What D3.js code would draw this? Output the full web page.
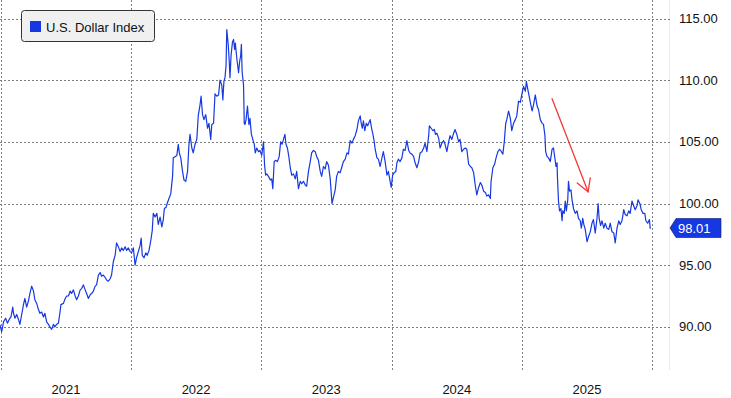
<!DOCTYPE html>
<html>
<head>
<meta charset="utf-8">
<script src="https://cdn.jsdelivr.net/npm/d3@7"></script>
<style>
  body { margin: 0; background: #fff; }
  text { font-family: "Liberation Sans", Arial, sans-serif; }
</style>
</head>
<body>
<div id="chart"></div>
<script>
var svgWidth = 731;
var svgHeight = 398;

// [days since 2021-01-01, index level]
var dxy2021 = [[-3,90.16],[2,89.6],[7,90.4],[13,90.7],[18,90.3],[23,90.6],[28,90.8],[33,91.6],[35,91.1],[39,90.7],[44,91.0],[49,90.6],[53,90.2],[58,91.0],[63,91.8],[67,92.3],[72,91.6],[77,92.1],[81,92.7],[86,93.3],[91,92.9],[95,92.2],[100,91.9],[105,91.4],[109,91.1],[114,91.2],[119,90.8],[123,91.1],[128,90.4],[133,90.2],[137,90.0],[142,89.8],[147,90.2],[151,90.0],[156,90.2],[161,90.3],[165,91.1],[168,91.8],[175,91.9],[180,92.3],[184,92.5],[189,92.5],[194,92.9],[198,92.7],[203,93.0],[208,92.5],[212,92.2],[217,92.5],[222,93.0],[226,93.1],[231,93.4],[236,93.0],[240,92.7],[245,92.3],[250,92.6],[254,92.7],[259,92.9],[264,93.3],[268,93.4],[273,94.2],[278,94.4],[282,94.1],[287,94.2],[292,94.0],[296,93.8],[301,93.7],[306,93.9],[310,94.2],[315,95.3],[320,95.8],[324,96.8],[329,96.5],[334,96.1],[338,96.4],[343,96.2],[348,96.5],[352,96.2],[357,96.4],[362,96.1]];
var dxy2022 = [[366,96.0],[371,96.4],[376,95.0],[380,95.6],[385,96.1],[390,96.6],[393,97.2],[396,95.8],[401,95.6],[406,96.0],[410,95.8],[415,96.2],[420,97.0],[424,97.8],[427,99.2],[432,98.9],[437,99.2],[441,98.3],[446,98.9],[451,98.1],[455,98.7],[458,99.6],[463,99.7],[467,100.1],[471,100.4],[476,100.8],[481,102.2],[483,103.7],[488,103.8],[493,103.9],[497,104.8],[500,104.1],[504,103.7],[509,102.6],[513,101.9],[518,101.8],[523,102.6],[527,104.8],[530,105.6],[535,104.5],[539,104.1],[544,104.8],[549,105.2],[553,107.1],[558,108.0],[561,108.7],[565,107.2],[569,106.8],[574,107.2],[579,106.1],[583,106.5],[588,105.2],[591,106.4],[596,106.5],[600,108.9],[605,108.7],[610,108.8],[614,110.0],[619,109.6],[622,108.4],[625,109.9],[628,110.2],[631,111.2],[633,114.1],[637,112.9],[640,111.5],[642,110.2],[645,112.0],[649,113.1],[652,113.3],[655,112.5],[657,113.0],[661,111.8],[666,110.6],[669,111.5],[672,112.0],[674,112.9],[676,110.7],[680,109.6],[682,106.5],[684,106.4],[687,106.8],[691,107.9],[695,106.4],[698,106.9],[702,105.6],[706,105.2],[710,104.8],[713,104.1],[717,104.5],[722,104.2],[726,104.3]];
var dxy2023 = [[731,103.9],[736,105.0],[739,103.1],[742,102.3],[745,102.4],[750,102.2],[755,101.9],[759,102.0],[762,101.2],[766,103.4],[770,103.5],[775,103.4],[780,103.8],[784,105.0],[788,104.8],[792,105.2],[796,105.6],[799,104.8],[803,104.5],[807,103.8],[811,102.9],[815,102.3],[820,102.4],[825,102.0],[829,102.6],[834,101.2],[839,101.8],[843,101.6],[848,101.8],[853,101.5],[857,101.4],[862,102.6],[867,103.4],[871,104.1],[876,104.3],[881,104.2],[885,103.8],[890,103.5],[895,102.6],[899,102.2],[904,103.0],[909,102.8],[913,103.4],[918,103.1],[923,102.0],[928,100.0],[932,100.5],[937,101.1],[941,102.2],[946,102.6],[951,102.5],[956,103.0],[960,103.4],[965,103.6],[970,104.1],[974,104.0],[979,105.1],[984,104.9],[988,105.2],[993,105.5],[998,106.0],[1002,106.7],[1007,107.1],[1010,106.5],[1013,106.1],[1016,106.7],[1020,105.9],[1024,106.5],[1028,106.3],[1031,106.5],[1035,106.8],[1039,106.1],[1042,105.7],[1046,105.1],[1049,104.4],[1054,103.7],[1058,103.6],[1063,103.0],[1068,103.7],[1072,104.2],[1077,103.4],[1082,102.3],[1086,102.6],[1091,101.8],[1094,101.3]];
var dxy2024 = [[1098,102.3],[1102,102.5],[1107,102.6],[1110,103.3],[1114,103.6],[1119,103.4],[1124,103.7],[1128,104.4],[1133,104.3],[1138,105.1],[1143,104.3],[1147,104.1],[1152,104.0],[1157,103.8],[1161,103.3],[1166,102.9],[1171,103.4],[1175,104.1],[1180,104.2],[1185,104.5],[1189,104.9],[1194,104.2],[1199,105.5],[1201,106.3],[1206,106.1],[1211,105.9],[1215,106.0],[1218,105.6],[1222,105.7],[1227,105.3],[1231,104.5],[1236,104.9],[1241,105.1],[1245,104.8],[1250,104.2],[1255,105.0],[1259,105.5],[1264,105.2],[1269,105.7],[1273,106.0],[1278,105.6],[1283,105.0],[1287,105.2],[1292,104.2],[1297,104.4],[1302,104.5],[1306,104.4],[1311,103.2],[1316,103.0],[1320,102.9],[1325,102.5],[1330,101.4],[1334,100.7],[1339,101.3],[1344,101.7],[1348,101.5],[1353,101.0],[1358,100.9],[1362,100.6],[1367,100.7],[1372,100.4],[1374,101.8],[1379,102.9],[1384,103.2],[1388,103.7],[1393,104.2],[1398,104.4],[1403,104.2],[1407,104.0],[1411,105.0],[1415,106.5],[1418,106.8],[1423,107.5],[1428,106.9],[1432,105.9],[1437,106.5],[1442,106.8],[1446,107.1],[1451,108.3],[1456,108.2],[1460,108.8]];
var dxy2025 = [[1465,109.5],[1470,109.1],[1473,109.9],[1476,109.4],[1480,108.8],[1484,108.2],[1489,107.5],[1493,108.0],[1498,108.8],[1503,107.9],[1507,107.6],[1512,106.8],[1517,106.5],[1521,106.4],[1525,105.5],[1527,104.2],[1531,103.8],[1535,103.7],[1540,103.4],[1545,104.4],[1549,104.5],[1556,103.0],[1559,103.3],[1560,102.2],[1563,100.2],[1566,99.4],[1570,99.6],[1573,98.6],[1575,99.4],[1579,99.2],[1582,100.2],[1585,99.4],[1589,100.3],[1591,101.8],[1594,101.0],[1598,101.1],[1601,100.3],[1605,99.6],[1610,99.2],[1615,99.4],[1619,98.8],[1624,98.6],[1627,98.0],[1631,98.8],[1634,98.3],[1638,97.9],[1643,96.9],[1647,97.3],[1652,97.7],[1657,98.4],[1661,98.7],[1666,97.6],[1671,98.8],[1674,100.0],[1677,98.8],[1681,98.2],[1685,98.6],[1690,98.0],[1694,98.4],[1699,98.0],[1704,97.9],[1708,98.4],[1713,97.7],[1718,97.6],[1722,96.8],[1727,98.0],[1732,98.6],[1736,98.3],[1741,98.6],[1746,99.5],[1750,99.1],[1755,99.0],[1760,99.4],[1764,99.2],[1769,100.2],[1774,99.8],[1778,99.5],[1783,99.8],[1786,100.3],[1791,100.0],[1795,99.5],[1800,99.2],[1805,99.2],[1808,98.6],[1813,98.4],[1818,98.7],[1820,98.0],[1822,98.01]];

var yearLabels = ["2021", "2022", "2023", "2024", "2025"];
var yTicks = [90, 95, 100, 105, 110, 115];
var seriesName = "U.S. Dollar Index";
var lastValue = 98.01;
// red annotation arrow: [day, level] start and end
var arrowStart = [1545, 108.5];
var arrowEnd = [1646, 100.95];

var start = new Date(2021, 0, 1);
function toDate(day) { return d3.timeDay.offset(start, day); }

var data = [].concat(dxy2021, dxy2022, dxy2023, dxy2024, dxy2025)
  .map(d => ({ date: toDate(d[0]), value: d[1] }));

var plotBottom = 370;
var plotRight = 672;
var blue = "#1538e3";

var svg = d3.select("#chart").append("svg")
  .attr("width", svgWidth)
  .attr("height", svgHeight)
  .style("display", "block");

svg.append("rect").attr("width", svgWidth).attr("height", svgHeight).attr("fill", "#fff");

var xScale = d3.scaleTime()
  .domain([new Date(2021, 0, 1), new Date(2026, 0, 1)])
  .range([1, 652.3]);

var yScale = d3.scaleLinear()
  .domain([86.5, 116.5])
  .range([plotBottom, 0]);

// axis separator
svg.append("line")
  .attr("x1", 669.5).attr("x2", 669.5)
  .attr("y1", 0).attr("y2", plotBottom)
  .attr("stroke", "#ececec");

// gridlines
var years = d3.range(2021, 2027).map(y => new Date(y, 0, 1));
svg.append("g").selectAll("line")
  .data(years)
  .enter().append("line")
  .attr("x1", d => Math.round(xScale(d)) + 0.5)
  .attr("x2", d => Math.round(xScale(d)) + 0.5)
  .attr("y1", 0).attr("y2", plotBottom)
  .attr("stroke", "#7f7f7f")
  .attr("stroke-dasharray", "2,2");

svg.append("g").selectAll("line")
  .data(yTicks)
  .enter().append("line")
  .attr("x1", 0).attr("x2", plotRight)
  .attr("y1", d => Math.round(yScale(d)) + 0.5)
  .attr("y2", d => Math.round(yScale(d)) + 0.5)
  .attr("stroke", "#7f7f7f")
  .attr("stroke-dasharray", "2,2");

// right axis labels
svg.append("g").selectAll("text")
  .data(yTicks)
  .enter().append("text")
  .attr("x", 679)
  .attr("y", d => yScale(d))
  .attr("dy", "0.35em")
  .attr("font-size", "13px")
  .attr("fill", "#111")
  .text(d => d3.format(".2f")(d));

// year labels, centred in each year
svg.append("g").selectAll("text")
  .data(yearLabels)
  .enter().append("text")
  .attr("x", d => xScale(new Date(+d, 6, 2)))
  .attr("y", 394)
  .attr("text-anchor", "middle")
  .attr("font-size", "13px")
  .attr("fill", "#111")
  .text(d => d);

// series
var line = d3.line()
  .x(d => xScale(d.date))
  .y(d => yScale(d.value));

svg.append("path")
  .datum(data)
  .attr("d", line)
  .attr("fill", "none")
  .attr("stroke", blue)
  .attr("stroke-width", 1.2)
  .attr("stroke-linejoin", "round");

// annotation arrow
var ax1 = xScale(toDate(arrowStart[0])), ay1 = yScale(arrowStart[1]);
var ax2 = xScale(toDate(arrowEnd[0])), ay2 = yScale(arrowEnd[1]);
var ang = Math.atan2(ay2 - ay1, ax2 - ax1);
var headLen = 14, headAng = Math.PI / 6;
var arrowG = svg.append("g")
  .attr("stroke", "#f23a3a")
  .attr("stroke-width", 1.3)
  .attr("fill", "none")
  .attr("stroke-linecap", "round");
arrowG.append("line").attr("x1", ax1).attr("y1", ay1).attr("x2", ax2).attr("y2", ay2);
arrowG.append("polyline").attr("points", [
  [ax2 - headLen * Math.cos(ang - headAng), ay2 - headLen * Math.sin(ang - headAng)],
  [ax2, ay2],
  [ax2 - headLen * Math.cos(ang + headAng), ay2 - headLen * Math.sin(ang + headAng)]
].map(p => p.join(",")).join(" "));

// last value tag
var ly = yScale(lastValue);
svg.append("path")
  .attr("d", `M670,${ly} L676,${ly - 9.5} L721,${ly - 9.5} L721,${ly + 9.5} L676,${ly + 9.5} Z`)
  .attr("fill", blue)
  .attr("stroke", "#0b1a66")
  .attr("stroke-width", 0.6);
svg.append("text")
  .attr("x", 678)
  .attr("y", ly)
  .attr("dy", "0.35em")
  .attr("font-size", "13px")
  .attr("fill", "#fff")
  .text(d3.format(".2f")(lastValue));

// legend
var legend = svg.append("g");
legend.append("rect")
  .attr("x", 21.5).attr("y", 10.5)
  .attr("width", 133).attr("height", 31)
  .attr("rx", 3)
  .attr("fill", "#f0f0f0")
  .attr("stroke", "#333")
  .attr("stroke-width", 1);
legend.append("rect")
  .attr("x", 30).attr("y", 21)
  .attr("width", 11).attr("height", 11)
  .attr("fill", blue);
legend.append("text")
  .attr("x", 46).attr("y", 32)
  .attr("font-size", "13px")
  .attr("fill", "#111")
  .text(seriesName);
</script>
</body>
</html>
